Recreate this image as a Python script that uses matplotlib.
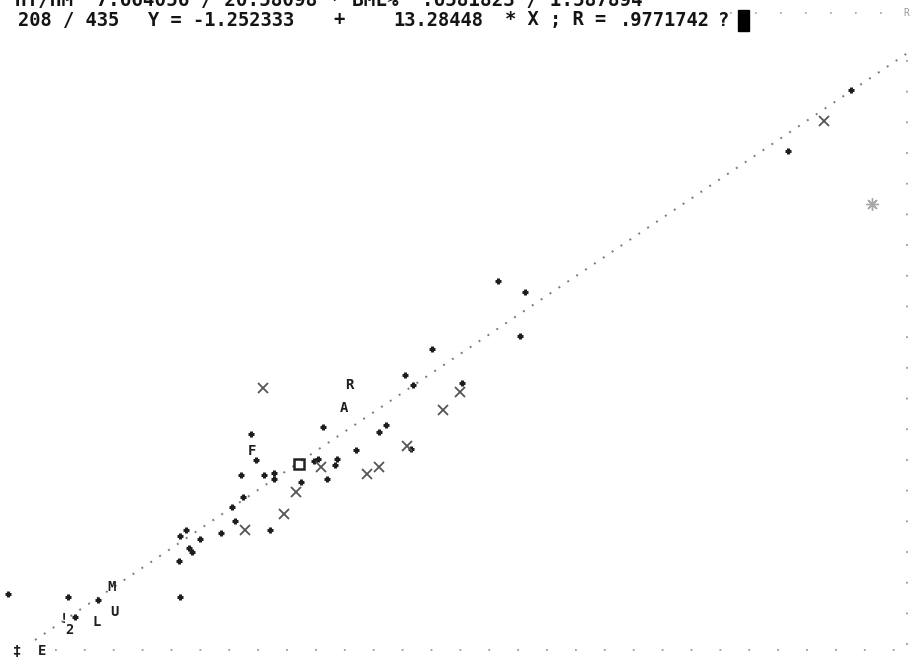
import matplotlib
matplotlib.use("Agg")
import matplotlib.pyplot as plt

# screen coordinates (x right, y down, pixels)
plus_x = [8, 68, 180, 98, 75, 179, 189, 192, 200, 180, 186, 221, 235, 270, 232, 243,
          241, 264, 274, 274, 301, 256, 251, 314, 318, 337, 335, 327, 356, 411, 323,
          386, 379, 405, 413, 432, 462, 498, 525, 520, 851, 788]
plus_y = [594, 597, 597, 600, 617, 561, 548, 552, 539, 536, 530, 533, 521, 530, 507, 497,
          475, 475, 473, 479, 482, 460, 434, 461, 459, 459, 465, 479, 450, 449, 427,
          425, 432, 375, 385, 349, 383, 281, 292, 336, 90, 151]

cross_x = [263, 407, 321, 367, 379, 296, 284, 245, 460, 443, 824]
cross_y = [388, 446, 467, 474, 467, 492, 514, 530, 392, 410, 121]

square_x = [299]
square_y = [464]

letters = ["R", "A", "F", "M", "U", "L", "2", "!", "E", "\u2021"]
letter_x = [349, 344, 252, 112, 114, 97, 69, 64, 42, 17]
letter_y = [385, 408, 451, 587, 612, 622, 630, 619, 651, 651]

star_x = [872]
star_y = [204]

# fitted line end points (screen coords)
fit_x = [35, 912]
fit_y = [640, 50]

line1 = "HT/HM  7.664056 / 20.58098 * BML%  .6581823 / 1.587894"
# second status line, in pieces with their screen column
line2_parts = ["208 / 435", "Y = -1.252333", "+", "13.28448", "* X ; R =",
               ".9771742", "?"]
line2_x = [18, 148, 333, 393, 505, 620, 718]

fig = plt.figure(figsize=(9.12, 6.57), dpi=100)
ax = fig.add_axes([0, 0, 1, 1])
ax.set_xlim(0, 912)
ax.set_ylim(657, 0)
ax.axis("off")

# regression line as a dotted trail
ax.plot(fit_x, fit_y, color="#7a7a7a", lw=1.4, ls=(0, (1, 4.5)))

# screen frame: dotted bottom, right and top edges
ax.plot([55, 905], [650, 650], color="#9a9a9a", lw=1.3, ls=(0, (1, 15)))
ax.plot([907, 907], [60, 650], color="#9a9a9a", lw=1.3, ls=(0, (1, 16)))
ax.plot([680, 900], [13, 13], color="#a0a0a0", lw=1.2, ls=(0, (1, 14)))

ax.plot(plus_x, plus_y, ls="none", marker="+", ms=5, mew=2.2, color="#1e1e1e")
ax.plot(cross_x, cross_y, ls="none", marker="x", ms=7, mew=1.3, color="#555555")
ax.plot(square_x, square_y, ls="none", marker="s", ms=7, mfc="none", mew=1.8,
        color="#222222")
ax.plot(star_x, star_y, ls="none", marker=(8, 2, 0), ms=9, mew=1.0, color="#a8a8a8")

for s, x, y in zip(letters, letter_x, letter_y):
    ax.text(x, y, s, fontsize=10, fontweight="bold", family="DejaVu Sans Mono",
            color="#1e1e1e", ha="center", va="center")

ax.text(903, 13, "R", fontsize=7, color="#999999", ha="left", va="center",
        family="DejaVu Sans Mono")

mono = dict(family="DejaVu Sans Mono", fontweight="bold", fontsize=13.5,
            color="#141414", va="center", ha="left")
ax.text(15, 1, line1, **{**mono, "fontsize": 13.9})
for s, x in zip(line2_parts, line2_x):
    ax.text(x, 20, s, **mono)
# blinking cursor block
ax.add_patch(plt.Rectangle((738, 10), 11, 21, color="#000000"))

fig.savefig("out.png", dpi=100)
